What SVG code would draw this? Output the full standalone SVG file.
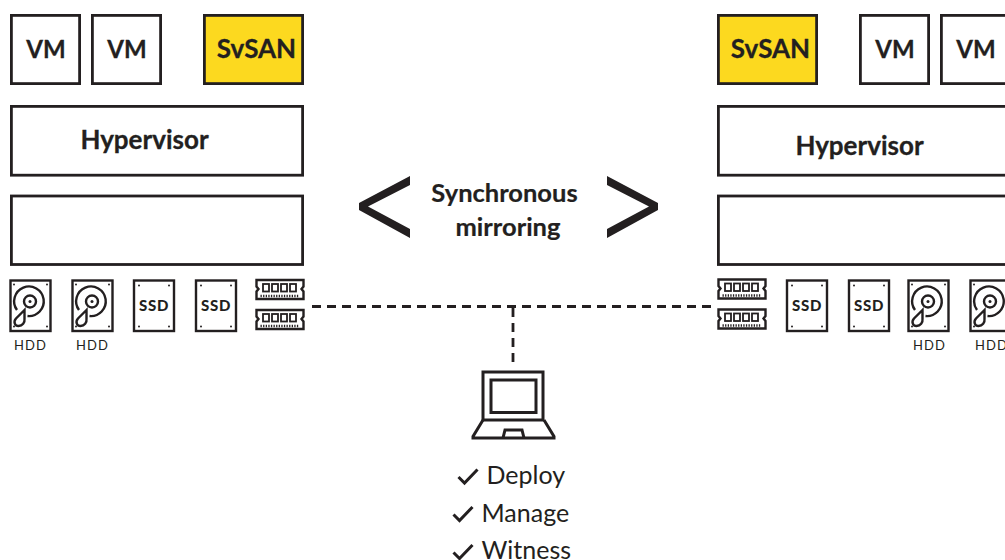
<svg xmlns="http://www.w3.org/2000/svg" width="1005" height="560" viewBox="0 0 1005 560">
<style>
text{font-family:"Lato","Liberation Sans",sans-serif;fill:#231f20;text-anchor:middle}
.b{fill:#fff;stroke:#231f20;stroke-width:2.8}
.y{fill:#fcd91f;stroke:#231f20;stroke-width:2.8}
.t{font-size:26px;font-weight:700;stroke:#231f20;stroke-width:.3}
.v{font-size:24px;font-weight:700;stroke:#231f20;stroke-width:.3}
.m{font-size:25.500px;font-weight:700;stroke:#231f20;stroke-width:.2}
.h{font-size:13px;letter-spacing:1.100px}
.l{font-size:25px;font-weight:400;text-anchor:start}
.s{fill:#fff;stroke:#231f20;stroke-width:2.400}
.n{fill:none;stroke:#231f20;stroke-width:2.400}
.p{fill:none;stroke:#231f20;stroke-width:1.800}
.d{fill:#231f20}
.w{fill:none;stroke:#231f20;stroke-width:3}
.dash{fill:none;stroke:#231f20;stroke-width:2.800;stroke-dasharray:9 6}
</style>
<defs>
<g id="hdd">
<rect class="s" x="1" y="1" width="40" height="50.500"/>
<circle class="d" cx="4.500" cy="5" r="1"/><circle class="d" cx="37.500" cy="5" r="1"/><circle class="d" cx="4.500" cy="47" r="1"/><circle class="d" cx="37.500" cy="47" r="1"/>
<path class="n" d="M7.500 30.500A14.800 14.800 0 1 1 18 36.500"/>
<circle class="n" cx="20.500" cy="22" r="6"/><circle class="d" cx="20.500" cy="22" r="1.500"/>
<path class="n" d="M15 30.500L6.500 39C3.500 42.500 5.500 46.500 9 46.500C13 46.500 15.500 43 15 39.500Z"/>
</g>
<g id="ssd">
<rect class="s" x="1" y="1" width="40" height="50.500"/>
<circle class="d" cx="6" cy="6" r="1"/><circle class="d" cx="36" cy="6" r="1"/><circle class="d" cx="6" cy="47" r="1"/><circle class="d" cx="36" cy="47" r="1"/>
<text x="21" y="31" font-size="15" font-weight="900" letter-spacing=".7">SSD</text>
</g>
<g id="ram">
<path class="n" d="M1 1H48V7.500L46 10L48 12.500V20H1V12.500L3 10L1 7.500Z"/>
<rect class="p" x="7.500" y="5" width="6" height="7.500"/>
<rect class="p" x="16.500" y="5" width="6" height="7.500"/>
<rect class="p" x="25.500" y="5" width="6" height="7.500"/>
<rect class="p" x="34.500" y="5" width="6" height="7.500"/>
<path class="n" d="M5 17H44" style="stroke-dasharray:1.300 1.300"/>
</g>
<path id="tick" d="M1 8.500L7 14.500L20 1" fill="none" stroke="#231f20" stroke-width="3"/>
</defs>

<g id="connectors">
<path class="dash" d="M312 306.500H716"/>
<path class="dash" d="M513 308V364"/>
</g>

<g id="left-vm1"><rect class="b" x="11.400" y="15.400" width="68.200" height="68.200"/><text class="v" x="46" y="58">VM</text></g>
<g id="left-vm2"><rect class="b" x="92.400" y="15.400" width="68.200" height="68.200"/><text class="v" x="127" y="58">VM</text></g>
<g id="left-svsan"><rect class="y" x="204.400" y="15.400" width="98.200" height="68.200"/><text class="t" x="256.500" y="58">SvSAN</text></g>
<g id="left-hypervisor"><rect class="b" x="11.400" y="106.400" width="291.200" height="68.800"/><text class="t" x="144.500" y="149">Hypervisor</text></g>
<g id="left-blank"><rect class="b" x="11.400" y="196" width="291.200" height="68.500"/></g>
<g id="left-hdd1"><use href="#hdd" x="9.500" y="279.500"/><text class="h" x="30.500" y="350">HDD</text></g>
<g id="left-hdd2"><use href="#hdd" x="71.500" y="279.500"/><text class="h" x="92.500" y="350">HDD</text></g>
<g id="left-ssd1"><use href="#ssd" x="133" y="279.500"/></g>
<g id="left-ssd2"><use href="#ssd" x="195" y="279.500"/></g>
<g id="left-ram"><use href="#ram" x="255.500" y="279"/><use href="#ram" x="255.500" y="309"/></g>

<g id="right-svsan"><rect class="y" x="718.400" y="15.400" width="98.200" height="68.200"/><text class="t" x="770.500" y="58">SvSAN</text></g>
<g id="right-vm1"><rect class="b" x="860.400" y="15.400" width="68.200" height="68.200"/><text class="v" x="895" y="58">VM</text></g>
<g id="right-vm2"><rect class="b" x="941.400" y="15.400" width="68.200" height="68.200"/><text class="v" x="976" y="58">VM</text></g>
<g id="right-hypervisor"><rect class="b" x="718.400" y="106.400" width="292" height="68.800"/><text class="t" x="859.500" y="154.500">Hypervisor</text></g>
<g id="right-blank"><rect class="b" x="718.400" y="196" width="292" height="68.500"/></g>
<g id="right-ram"><use href="#ram" x="717.500" y="278.500"/><use href="#ram" x="717.500" y="308.500"/></g>
<g id="right-ssd1"><use href="#ssd" x="786" y="279.500"/></g>
<g id="right-ssd2"><use href="#ssd" x="848" y="279.500"/></g>
<g id="right-hdd1"><use href="#hdd" x="907.500" y="279.500"/><text class="h" x="929.500" y="350">HDD</text></g>
<g id="right-hdd2"><use href="#hdd" x="969.500" y="279.500"/><text class="h" x="991.500" y="350">HDD</text></g>

<g id="mirroring">
<path class="d" d="M410 176L359 203V210L410 238V229L368 206.500L410 185Z"/>
<path class="d" d="M607 176L658 203V210L607 238V229L649 206.500L607 185Z"/>
<text class="m" x="504.500" y="202">Synchronous</text>
<text class="m" x="508" y="236">mirroring</text>
</g>

<g id="laptop">
<rect class="w" x="483" y="372" width="60" height="48"/>
<rect class="w" x="491" y="380" width="45" height="32.500"/>
<path class="w" d="M483 420L473 436.500V438H554V436.500L544 420"/>
<path class="w" d="M503 438L505 430H522L524 438"/>
</g>

<g id="checklist">
<use href="#tick" x="457.500" y="468.500"/><text class="l" x="486.500" y="484">Deploy</text>
<use href="#tick" x="452.500" y="506"/><text class="l" x="481.500" y="522">Manage</text>
<use href="#tick" x="452.500" y="544"/><text class="l" x="481.500" y="559">Witness</text>
</g>
</svg>
